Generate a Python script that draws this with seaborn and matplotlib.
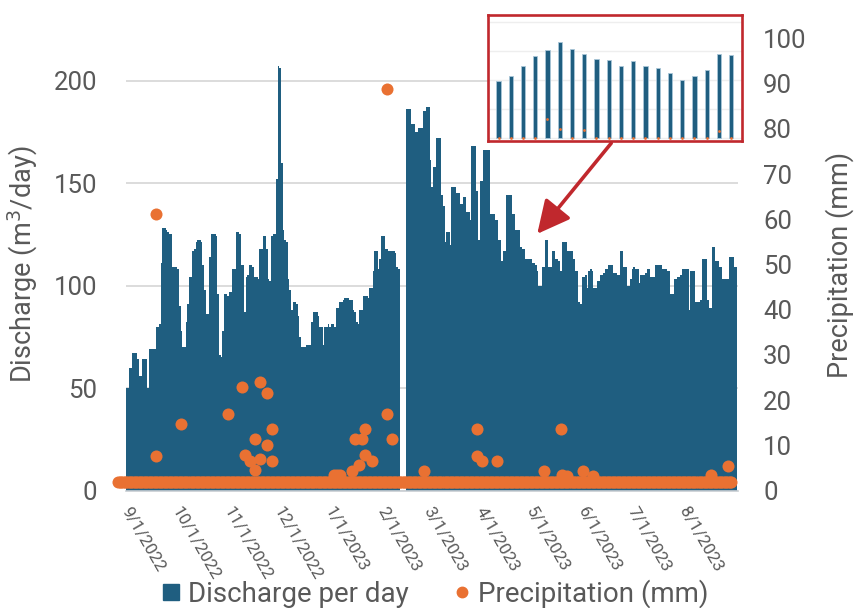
import numpy as np
import pandas as pd
import seaborn as sns
import matplotlib.pyplot as plt
import matplotlib.dates as mdates
import matplotlib.transforms as mtransforms
from matplotlib.lines import Line2D
from matplotlib.patches import FancyArrowPatch

sns.set_theme(style="white")
plt.rcParams['font.family'] = ['Roboto', 'DejaVu Sans']

BLUE = '#1F5E80'
ORANGE = '#E97132'
GREY = '#595959'
RED = '#C0282D'

# daily discharge (m3/day), 9/1/2022 .. 9/1/2023, nan = no data
discharge = [
    50, 50, 60, 60, 67, 67, 67, 64, 56, 56,
    64, 64, 64, 50, 69, 69, 69, 69, 80, 80,
    81, 111, 128, 128, 127, 126, 125, 125, 109, 109,
    109, 108, 90, 78, 70, 70, 82, 91, 104, 104,
    117, 118, 121, 122, 122, 121, 110, 98, 86, 86,
    114, 125, 125, 125, 124, 96, 66, 65, 78, 96,
    96, 95, 97, 97, 108, 108, 126, 126, 125, 110,
    110, 87, 104, 105, 110, 110, 109, 104, 104, 103,
    118, 118, 124, 124, 118, 103, 102, 124, 125, 125,
    152, 207, 206, 160, 127, 122, 121, 103, 98, 88,
    92, 92, 91, 85, 75, 70, 70, 70, 71, 71,
    71, 82, 87, 87, 87, 85, 80, 80, 71, 80,
    80, 81, 80, 81, 81, 80, 89, 89, 92, 92,
    93, 94, 94, 94, 93, 93, 88, 87, 82, 81,
    88, 88, 95, 95, 95, 94, 99, 99, 107, 117,
    117, 108, 113, 124, 124, 118, 118, 117, 117, 117,
    117, 116, 109, 108, np.nan, np.nan, np.nan, np.nan, 186, 186,
    186, 179, 179, 175, 175, 177, 177, 177, 185, 185,
    187, 187, 161, 148, 158, 158, 172, 172, 172, 144,
    139, 121, 126, 126, 120, 148, 148, 148, 145, 145,
    140, 140, 143, 143, 136, 136, 132, 168, 168, 168,
    146, 122, 151, 151, 166, 166, 166, 166, 135, 135,
    135, 132, 132, 122, 122, 112, 117, 117, 144, 144,
    144, 135, 135, 127, 127, 127, 119, 118, 118, 113,
    113, 113, 113, 111, 111, 110, 107, 100, 100, 109,
    109, 122, 122, 109, 109, 117, 117, 113, 113, 112,
    107, 121, 121, 121, 117, 117, 117, 117, 113, 107,
    107, 92, 91, 104, 104, 105, 99, 107, 108, 107,
    99, 99, 102, 102, 105, 105, 106, 108, 108, 110,
    110, 110, 106, 106, 105, 105, 117, 117, 109, 109,
    100, 100, 103, 108, 109, 108, 108, 101, 105, 105,
    105, 106, 108, 108, 104, 104, 104, 110, 110, 110,
    110, 108, 108, 108, 107, 107, 96, 96, 103, 103,
    104, 104, 105, 108, 108, 108, 108, 88, 107, 107,
    107, 92, 92, 92, 93, 113, 113, 113, 93, 89,
    89, 119, 119, 112, 112, 109, 109, 103, 103, 103,
    103, 114, 114, 114, 109, 109,
]
discharge_start = "2022-09-01"

# precipitation: dry days sit at the base row, wet days listed below
precip_first, precip_last = "2022-08-27", "2023-08-29"
precip_base = 1.8
rain_dates = [
    "2022-09-19", "2022-09-19", "2022-10-04", "2022-11-01", "2022-11-09",
    "2022-11-11", "2022-11-14", "2022-11-17", "2022-11-17", "2022-11-20",
    "2022-11-20", "2022-11-24", "2022-11-24", "2022-11-27", "2022-11-27",
    "2023-01-03", "2023-01-05", "2023-01-07", "2023-01-14", "2023-01-16",
    "2023-01-18", "2023-01-20", "2023-01-22", "2023-01-22", "2023-01-26",
    "2023-02-04", "2023-02-04", "2023-02-07", "2023-02-26", "2023-03-30",
    "2023-03-30", "2023-04-02", "2023-04-11", "2023-05-09", "2023-05-19",
    "2023-05-20", "2023-05-23", "2023-06-01", "2023-06-07", "2023-08-17",
    "2023-08-27",
]
rain_mm = [
    61.1, 7.7, 14.7, 17.0, 22.9,
    7.8, 6.5, 11.4, 4.5, 24.1,
    7.0, 21.6, 10.0, 13.6, 6.5,
    3.5, 3.5, 3.5, 4.3, 11.3,
    5.7, 11.3, 13.6, 7.8, 6.5,
    88.9, 17.0, 11.3, 4.3, 13.6,
    7.7, 6.5, 6.6, 4.4, 13.6,
    3.5, 3.2, 4.4, 3.3, 3.4,
    5.5,
]

# zoomed-in view in the red box
inset_values = [98, 107, 123, 141, 151, 165, 153, 145, 135, 134,
                124, 132, 124, 120, 111, 99, 107, 116, 144, 142]
inset_marks = [0, 0, 0, 0, 32, 15, 0, 13, 0, 0,
               0, 0, 0, 0, 0, 0, 0, 0, 11, 0]

month_ticks = pd.date_range("2022-09-01", "2023-09-01", freq="MS")

# ---- frames
bars = pd.DataFrame({"date": pd.date_range(discharge_start, periods=len(discharge)),
                     "discharge": discharge}).dropna()
bars["x"] = mdates.date2num(bars["date"]) + 0.5

dry = pd.DataFrame({"date": pd.date_range(precip_first, precip_last), "mm": precip_base})
wet = pd.DataFrame({"date": pd.to_datetime(rain_dates), "mm": rain_mm})
rain = pd.concat([dry, wet], ignore_index=True)
rain["x"] = mdates.date2num(rain["date"]) + 0.5

W, H = 855, 608
fig = plt.figure(figsize=(W / 100, H / 100), dpi=100)


def box(l, t, r, b):
    return [l / W, 1 - b / H, (r - l) / W, (b - t) / H]


ax = fig.add_axes(box(125.5, 38.5, 737.6, 490.5))
sns.barplot(data=bars, x="x", y="discharge", native_scale=True, width=1.0,
            color=BLUE, saturation=1, linewidth=0, errorbar=None, ax=ax)

x0 = mdates.date2num(pd.Timestamp(discharge_start))
ax.set_xlim(x0, x0 + 366.3)
ax.set_ylim(0, 220.5)
ax.set_yticks([0, 50, 100, 150, 200])
ax.grid(axis='y', color='#D9D9D9', lw=1.3)
ax.set_axisbelow(True)
for s in ['left', 'right', 'top']:
    ax.spines[s].set_visible(False)
ax.spines['bottom'].set_color('#C8CDD2')
ax.spines['bottom'].set_linewidth(1.2)

ax.set_xticks(mdates.date2num(month_ticks))
ax.set_xticklabels([f"{d.month}/{d.day}/{d.year}" for d in month_ticks[:-1]] + [""],
                   rotation=-60, ha='left', rotation_mode='anchor')
ax.tick_params(axis='x', length=5, width=1, color='#C8CDD2', labelsize=12.3,
               labelcolor=GREY, pad=5)
shift = mtransforms.ScaledTranslation(6 / 100, 0, fig.dpi_scale_trans)
for lab in ax.get_xticklabels():
    lab.set_transform(lab.get_transform() + shift)
ax.tick_params(axis='y', length=0, labelsize=18.5, labelcolor=GREY, pad=20.5)
ax.set_xlabel("")
ax.set_ylabel("Discharge (m$^3$/day)", fontsize=19.5, color=GREY)
ax.yaxis.set_label_coords(-0.167, 0.5)
ax.yaxis.label.set_va('center')

ax2 = ax.twinx()
sns.scatterplot(data=rain, x="x", y="mm", color=ORANGE, s=75, linewidth=0,
                legend=False, clip_on=False, zorder=3, ax=ax2)
ax2.set_ylim(0, 100)
ax2.set_yticks(range(0, 101, 10))
for s in ['left', 'right', 'top', 'bottom']:
    ax2.spines[s].set_visible(False)
ax2.tick_params(axis='y', length=0, labelsize=18.5, labelcolor=GREY, pad=18.3)
ax2.set_xlabel("")
ax2.set_ylabel("Precipitation (mm)", fontsize=19.5, color=GREY)
ax2.yaxis.set_label_coords(1.166, 0.5)
ax2.yaxis.label.set_va('center')

# ---- inset in red box
axi = fig.add_axes(box(487.5, 14.5, 742, 141))
sns.barplot(x=list(range(len(inset_values))), y=inset_values, native_scale=True,
            width=0.33, color=BLUE, saturation=1, edgecolor='#A9C6D8', linewidth=0.6,
            errorbar=None, ax=axi)
sns.scatterplot(x=list(range(len(inset_marks))), y=inset_marks, color=ORANGE, s=4,
                linewidth=0, legend=False, zorder=3, ax=axi)
axi.set_xlim(-0.898, 19.878)
axi.set_ylim(-5.7, 212.4)
axi.set_yticks([0, 50, 100, 150, 200])
axi.grid(axis='y', color='#EEEEEE', lw=1.0)
axi.set_axisbelow(True)
axi.set_xticks([])
axi.tick_params(axis='y', length=0, labelleft=False)
axi.set_xlabel("")
axi.set_ylabel("")
axi.set_facecolor('white')
for s in axi.spines.values():
    s.set_visible(True)
    s.set_color(RED)
    s.set_linewidth(1.9)

arrow = FancyArrowPatch((613 / W, 1 - 141 / H), (535.5 / W, 1 - 236 / H),
                        transform=fig.transFigure, arrowstyle='-|>,head_length=1.0,head_width=0.5',
                        mutation_scale=20, color=RED, lw=2.6)
fig.add_artist(arrow)

handles = [Line2D([], [], marker='s', ls='', color=BLUE, markersize=11),
           Line2D([], [], marker='o', ls='', color=ORANGE, markersize=7.5)]
fig.legend(handles, ["Discharge per day", "Precipitation (mm)"], loc='center',
           bbox_to_anchor=(436 / W, 1 - 594 / H), ncol=2, frameon=False, fontsize=20,
           handlelength=0.6, handletextpad=0.3, columnspacing=1.6, labelcolor=GREY)

fig.savefig("out.png", dpi=100)
